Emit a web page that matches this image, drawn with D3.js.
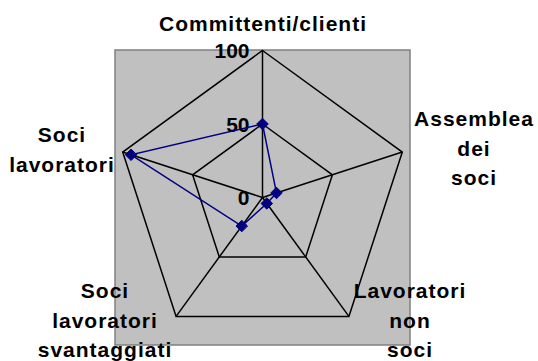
<!DOCTYPE html>
<html>
<head>
<meta charset="utf-8">
<script src="https://cdn.jsdelivr.net/npm/d3@7"></script>
<style>
	body { margin: 0; background: #fff; }
	text { font-family: 'Liberation Sans', Arial, sans-serif; font-weight: bold; fill: #000; }
</style>
</head>
<body>
<div id="chart"></div>
<script>
const categories = [
	['Committenti/clienti'],
	['Assemblea', 'dei', 'soci'],
	['Lavoratori', 'non', 'soci'],
	['Soci', 'lavoratori', 'svantaggiati'],
	['Soci', 'lavoratori'],
]
const values = [50, 10, 5, 24, 94]
const ticks = [0, 50, 100]

const width = 538
const height = 361
const cx = 262.5
const cy = 197.5

const svg = d3
	.select('#chart')
	.append('svg')
	.attr('width', width)
	.attr('height', height)

// plot area
svg
	.append('rect')
	.attr('x', 115)
	.attr('y', 50)
	.attr('width', 295)
	.attr('height', 295)
	.attr('fill', '#c0c0c0')
	.attr('stroke', '#808080')
	.attr('stroke-width', 1.5)

const r = d3.scaleLinear().domain([0, 100]).range([0, 147])
const angle = d3
	.scaleLinear()
	.domain([0, categories.length])
	.range([0, 2 * Math.PI])

const g = svg.append('g').attr('transform', `translate(${cx},${cy})`)

const point = (i, v) => [
	Math.sin(angle(i)) * r(v),
	-Math.cos(angle(i)) * r(v),
]

// grid rings
const ring = d3.line().curve(d3.curveLinearClosed)
g.selectAll('.ring')
	.data(ticks.filter((t) => t > 0))
	.enter()
	.append('path')
	.attr('d', (t) => ring(categories.map((_c, i) => point(i, t))))
	.attr('fill', 'none')
	.attr('stroke', '#000')
	.attr('stroke-width', 1.5)

// spokes
g.selectAll('.spoke')
	.data(categories)
	.enter()
	.append('line')
	.attr('x1', 0)
	.attr('y1', 0)
	.attr('x2', (_d, i) => point(i, 100)[0])
	.attr('y2', (_d, i) => point(i, 100)[1])
	.attr('stroke', '#000')
	.attr('stroke-width', 1.5)

// tick labels
g.selectAll('.tick')
	.data(ticks)
	.enter()
	.append('text')
	.attr('x', -13)
	.attr('y', (t) => -r(t))
	.attr('dy', '0.36em')
	.attr('text-anchor', 'end')
	.attr('font-size', 21)
	.text((t) => t)

// series
g.append('path')
	.attr('d', ring(values.map((v, i) => point(i, v))))
	.attr('fill', 'none')
	.attr('stroke', '#000080')
	.attr('stroke-width', 1.5)

g.selectAll('.marker')
	.data(values)
	.enter()
	.append('path')
	.attr('d', d3.symbol(d3.symbolDiamond2, 85))
	.attr('transform', (v, i) => `translate(${point(i, v)})`)
	.attr('fill', '#000080')
	.attr('stroke', '#000080')

// category labels (positions in page coords)
const labelPos = [
	[263, 31],
	[474, 126],
	[410, 298],
	[105, 298],
	[62, 142],
]
svg.selectAll('.cat')
	.data(categories)
	.enter()
	.append('text')
	.attr('text-anchor', 'middle')
	.attr('font-size', 21)
	.attr('letter-spacing', 1)
	.attr('x', (_d, i) => labelPos[i][0])
	.attr('y', (_d, i) => labelPos[i][1])
	.selectAll('tspan')
	.data((d) => d)
	.enter()
	.append('tspan')
	.attr('x', function () {
		return this.parentNode.getAttribute('x')
	})
	.attr('dy', (_d, i) => (i === 0 ? 0 : 29.5))
	.text((d) => d)
</script>
</body>
</html>
